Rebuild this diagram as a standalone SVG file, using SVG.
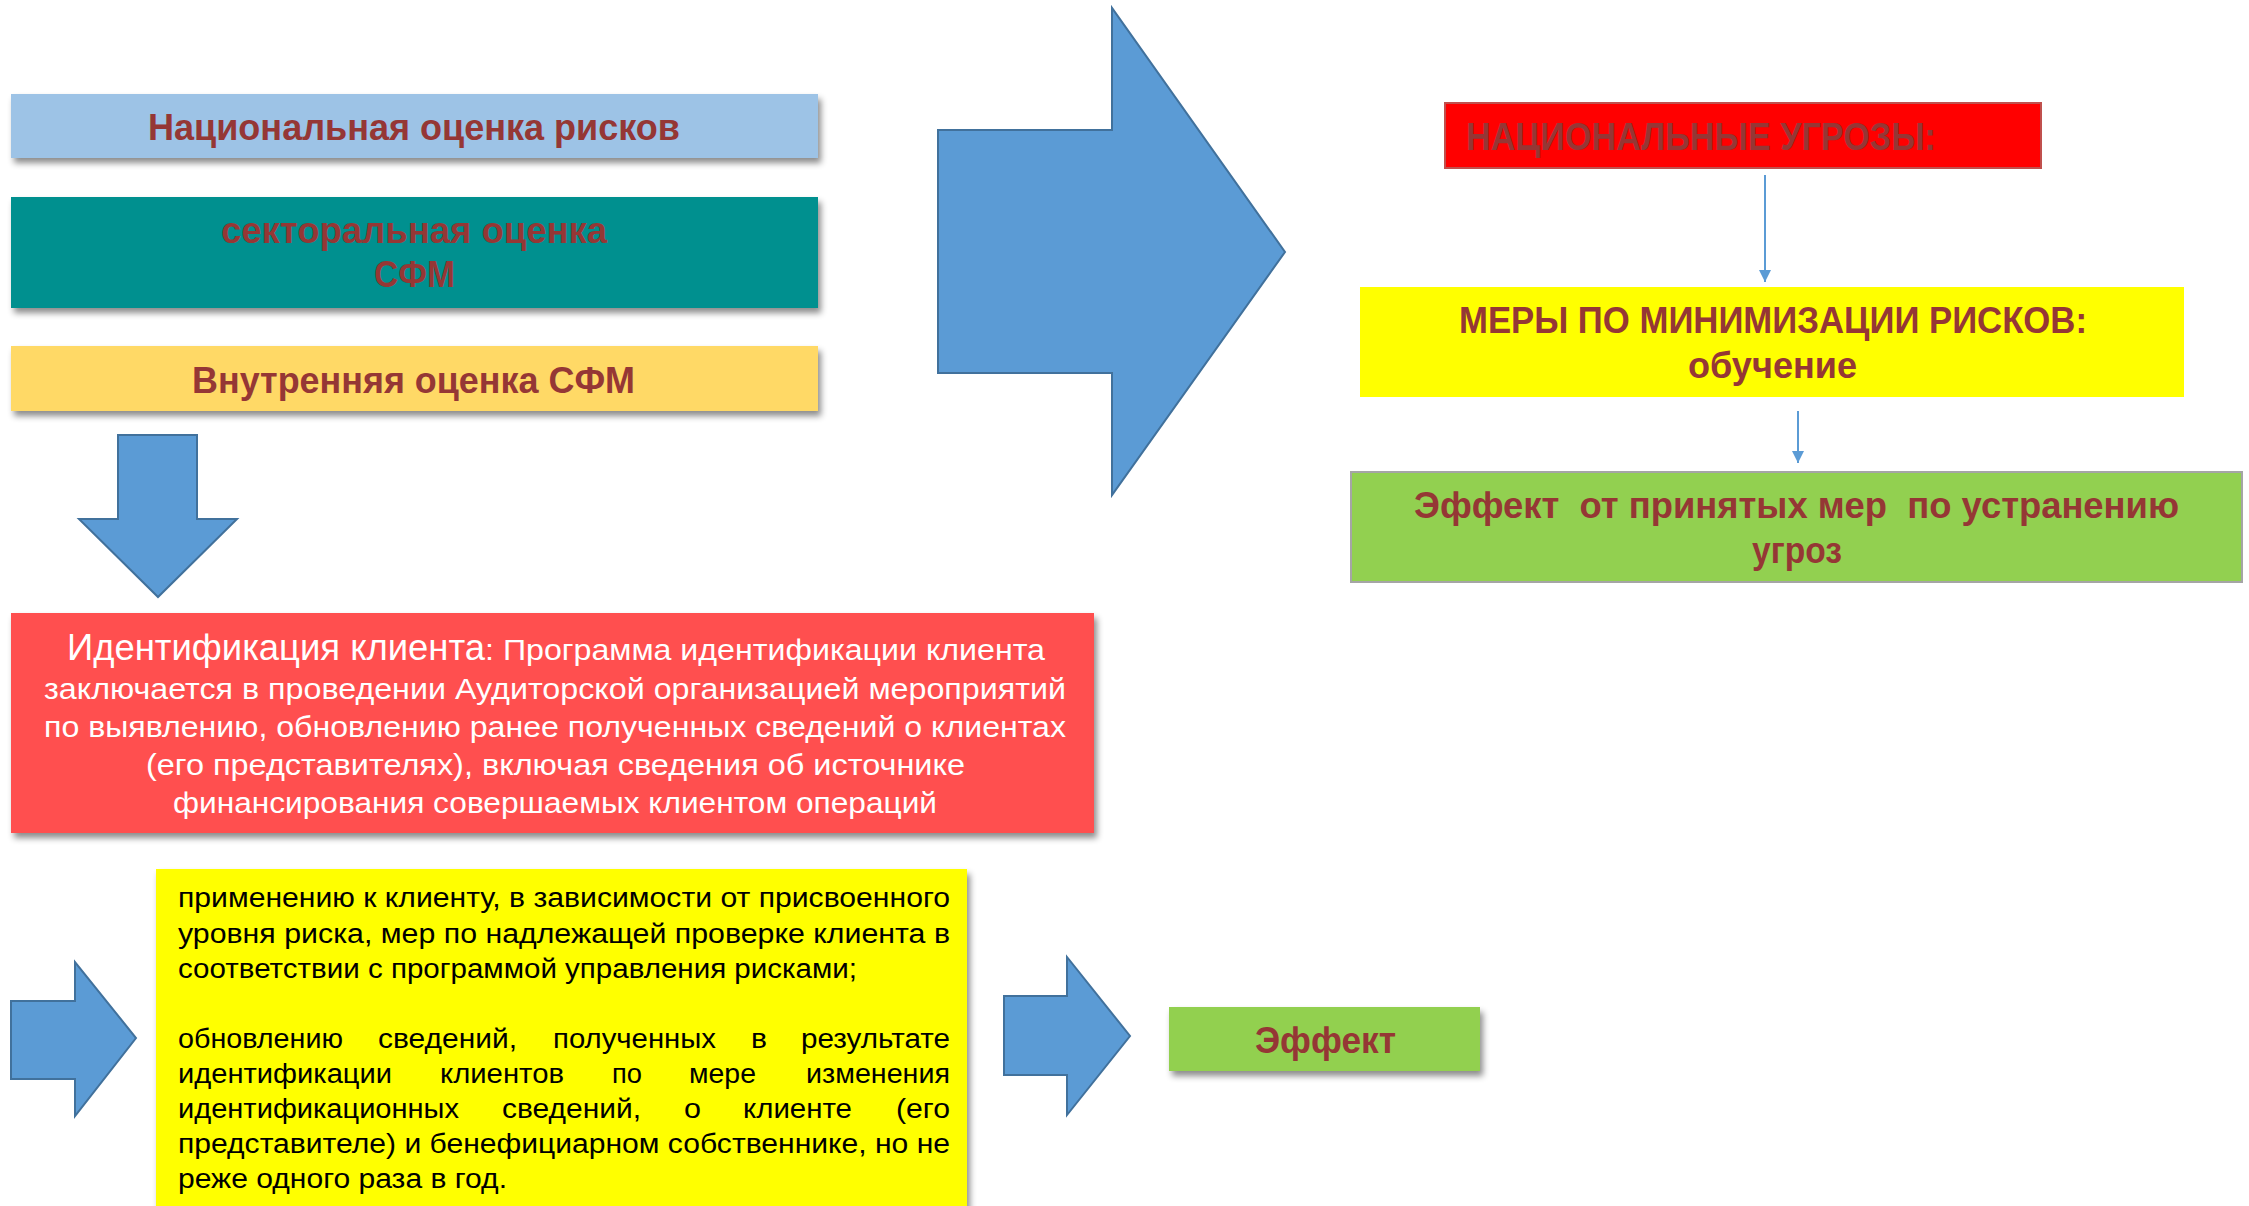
<svg xmlns="http://www.w3.org/2000/svg" width="2249" height="1206" viewBox="0 0 2249 1206">
<style>
.t{font-family:"Liberation Sans",Arial,sans-serif;}
.dr{fill:#953735;font-weight:bold;}
.wh{fill:#FFFFFF;}
.bk{fill:#000000;font-size:27px;}
.blk{fill:#5B9BD5;stroke:#41719C;stroke-width:2;}
.con{stroke:#5B9BD5;stroke-width:2;fill:none;}
</style>
<defs>
<filter id="sh" x="-5%" y="-20%" width="110%" height="150%">
<feDropShadow dx="3" dy="5" stdDeviation="3" flood-color="#000" flood-opacity="0.45"/>
</filter>
<marker id="ah" markerUnits="userSpaceOnUse" markerWidth="12" markerHeight="16" refX="12" refY="6" orient="auto">
<path d="M0,0 L12,6 L0,12 Z" fill="#5B9BD5"/>
</marker>
</defs>
<rect width="2249" height="1206" fill="#FFFFFF"/>

<g id="connectors">
<polygon class="blk" points="938,130 1112,130 1112,8 1285,252 1112,495 1112,373 938,373"/>
<polygon class="blk" points="118,435 197,435 197,519 237,519 158,597 79,519 118,519"/>
<polygon class="blk" points="11,1001 75,1001 75,962 136,1038 75,1116 75,1079 11,1079"/>
<polygon class="blk" points="1004,996 1067,996 1067,957 1130,1036 1067,1115 1067,1075 1004,1075"/>
<line class="con" x1="1765" y1="175" x2="1765" y2="282" marker-end="url(#ah)"/>
<line class="con" x1="1798" y1="411" x2="1798" y2="463" marker-end="url(#ah)"/>
</g>

<g id="n_national">
<rect x="11" y="94" width="807" height="64" fill="#9DC3E6" filter="url(#sh)"/>
<text class="t dr" x="148" y="140" font-size="36" textLength="532" lengthAdjust="spacingAndGlyphs">Национальная оценка рисков</text>
</g>

<g id="n_sector">
<rect x="11" y="197" width="807" height="111" fill="#00908F" filter="url(#sh)"/>
<text class="t dr" x="221" y="243" font-size="36" textLength="386" lengthAdjust="spacingAndGlyphs">секторальная оценка</text>
<text class="t dr" x="374" y="287" font-size="36" textLength="81" lengthAdjust="spacingAndGlyphs">СФМ</text>
</g>

<g id="n_internal">
<rect x="11" y="346" width="807" height="65" fill="#FFD966" filter="url(#sh)"/>
<text class="t dr" x="192" y="393" font-size="36" textLength="443" lengthAdjust="spacingAndGlyphs">Внутренняя оценка СФМ</text>
</g>

<g id="n_ident">
<rect x="11" y="613" width="1083" height="220" fill="#FF5050" filter="url(#sh)"/>
<text class="t wh" x="67" y="660" font-size="30"><tspan font-size="37" textLength="418" lengthAdjust="spacingAndGlyphs">Идентификация клиента</tspan><tspan textLength="560" lengthAdjust="spacingAndGlyphs">: Программа идентификации клиента</tspan></text>
<text class="t wh" x="44" y="699" font-size="30" textLength="1022" lengthAdjust="spacingAndGlyphs">заключается в проведении Аудиторской организацией мероприятий</text>
<text class="t wh" x="44" y="737" font-size="30" textLength="1022" lengthAdjust="spacingAndGlyphs">по выявлению, обновлению ранее полученных сведений о клиентах</text>
<text class="t wh" x="146" y="775" font-size="30" textLength="819" lengthAdjust="spacingAndGlyphs">(его представителях), включая сведения об источнике</text>
<text class="t wh" x="173" y="813" font-size="30" textLength="764" lengthAdjust="spacingAndGlyphs">финансирования совершаемых клиентом операций</text>
</g>

<g id="n_measures_list">
<rect x="156" y="869" width="811" height="345" fill="#FFFF00" filter="url(#sh)"/>
<text class="t bk" x="178" y="907" textLength="772" lengthAdjust="spacingAndGlyphs">применению к клиенту, в зависимости от присвоенного</text>
<text class="t bk" x="178" y="943" textLength="772" lengthAdjust="spacingAndGlyphs">уровня риска, мер по надлежащей проверке клиента в</text>
<text class="t bk" x="178" y="978" textLength="679" lengthAdjust="spacingAndGlyphs">соответствии с программой управления рисками;</text>
<text class="t bk" x="178" y="1048" textLength="165" lengthAdjust="spacingAndGlyphs">обновлению</text>
<text class="t bk" x="378" y="1048" textLength="139" lengthAdjust="spacingAndGlyphs">сведений,</text>
<text class="t bk" x="553" y="1048" textLength="163" lengthAdjust="spacingAndGlyphs">полученных</text>
<text class="t bk" x="751" y="1048" textLength="16" lengthAdjust="spacingAndGlyphs">в</text>
<text class="t bk" x="801" y="1048" textLength="149" lengthAdjust="spacingAndGlyphs">результате</text>
<text class="t bk" x="178" y="1083" textLength="214" lengthAdjust="spacingAndGlyphs">идентификации</text>
<text class="t bk" x="440" y="1083" textLength="124" lengthAdjust="spacingAndGlyphs">клиентов</text>
<text class="t bk" x="612" y="1083" textLength="30" lengthAdjust="spacingAndGlyphs">по</text>
<text class="t bk" x="689" y="1083" textLength="67" lengthAdjust="spacingAndGlyphs">мере</text>
<text class="t bk" x="806" y="1083" textLength="144" lengthAdjust="spacingAndGlyphs">изменения</text>
<text class="t bk" x="178" y="1118" textLength="281" lengthAdjust="spacingAndGlyphs">идентификационных</text>
<text class="t bk" x="502" y="1118" textLength="139" lengthAdjust="spacingAndGlyphs">сведений,</text>
<text class="t bk" x="684" y="1118" textLength="17" lengthAdjust="spacingAndGlyphs">о</text>
<text class="t bk" x="743" y="1118" textLength="109" lengthAdjust="spacingAndGlyphs">клиенте</text>
<text class="t bk" x="896" y="1118" textLength="54" lengthAdjust="spacingAndGlyphs">(его</text>
<text class="t bk" x="178" y="1153" textLength="772" lengthAdjust="spacingAndGlyphs">представителе) и бенефициарном собственнике, но не</text>
<text class="t bk" x="178" y="1188" textLength="329" lengthAdjust="spacingAndGlyphs">реже одного раза в год.</text>
</g>

<g id="n_effect_small">
<rect x="1169" y="1007" width="311" height="64" fill="#92D050" filter="url(#sh)"/>
<text class="t dr" x="1255" y="1053" font-size="36" textLength="141" lengthAdjust="spacingAndGlyphs">Эффект</text>
</g>

<g id="n_threats">
<rect x="1445" y="103" width="596" height="65" fill="#FF0000" stroke="#C0504D" stroke-width="2"/>
<text class="t dr" x="1466" y="150" font-size="38" textLength="470" lengthAdjust="spacingAndGlyphs">НАЦИОНАЛЬНЫЕ УГРОЗЫ:</text>
</g>

<g id="n_minimize">
<rect x="1360" y="287" width="824" height="110" fill="#FFFF00"/>
<text class="t dr" x="1459" y="333" font-size="36" textLength="628" lengthAdjust="spacingAndGlyphs">МЕРЫ ПО МИНИМИЗАЦИИ РИСКОВ:</text>
<text class="t dr" x="1688" y="378" font-size="36" textLength="169" lengthAdjust="spacingAndGlyphs">обучение</text>
</g>

<g id="n_effect_big">
<rect x="1351" y="472" width="891" height="110" fill="#92D050" stroke="#A5A5A5" stroke-width="2"/>
<text class="t dr" x="1414" y="518" font-size="36" textLength="765" lengthAdjust="spacingAndGlyphs" xml:space="preserve">Эффект  от принятых мер  по устранению</text>
<text class="t dr" x="1752" y="563" font-size="36" textLength="90" lengthAdjust="spacingAndGlyphs">угроз</text>
</g>
</svg>
